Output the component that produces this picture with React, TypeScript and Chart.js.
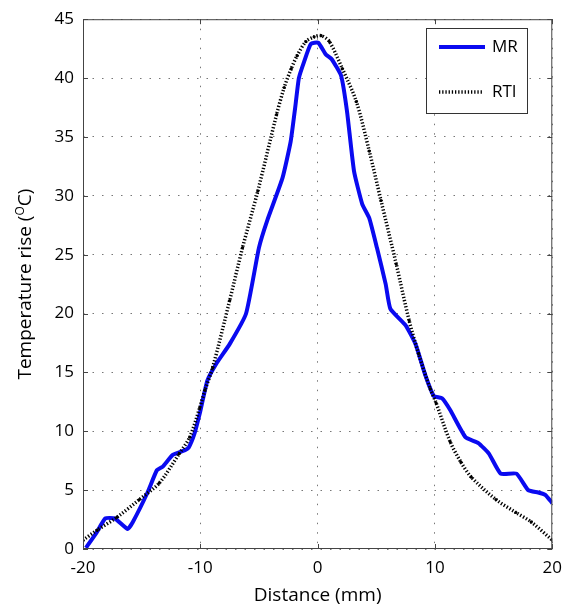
import React, { useEffect, useRef } from "react";
import { Chart, registerables } from "chart.js";

Chart.register(...registerables);

const mrX = [-19.75, -18.9, -18.1, -17.3, -16.2, -15.75, -14.5, -13.7, -13.2, -12.35, -11.3, -11.0, -10.5, -10.05, -9.4, -8.6, -7.5, -6.1, -5.0, -4.3, -3.0, -2.3, -1.9, -1.6, -1.15, -0.58, 0.05, 0.7, 1.2, 2.0, 2.5, 3.1, 3.8, 4.4, 5.05, 5.8, 6.2, 7.5, 8.35, 9.2, 9.9, 10.6, 11.3, 12.6, 13.7, 14.6, 15.6, 16.95, 17.95, 18.8, 19.4, 20];
const mrY = [0.1, 1.3, 2.6, 2.6, 1.7, 2.3, 4.8, 6.7, 7.0, 8.0, 8.4, 8.6, 9.8, 11.5, 14.3, 15.8, 17.4, 20.0, 25.6, 27.9, 31.5, 34.6, 37.6, 40.0, 41.4, 42.9, 43.0, 42.0, 41.6, 40.2, 37.2, 32.1, 29.3, 28.1, 25.6, 22.5, 20.4, 19.0, 17.4, 14.7, 13.0, 12.8, 11.8, 9.5, 9.0, 8.1, 6.4, 6.4, 5.0, 4.8, 4.6, 3.9];

const rtiX = [-20, -18.8, -17.1, -15.2, -13.5, -11.8, -10.9, -10.05, -9.6, -8.95, -7.5, -6.4, -5.1, -3.5, -2.85, -2.25, -1.75, -1.0, -0.3, 0.3, 1.0, 2.1, 3.3, 4.4, 5.4, 6.7, 7.8, 8.6, 9.6, 10.1, 11.3, 12.2, 13.1, 15.2, 16.9, 18.2, 20];
const rtiY = [0.75, 1.6, 2.7, 4.2, 5.6, 8.1, 9.5, 12.0, 13.5, 15.4, 21.1, 25.6, 30.4, 36.9, 39.2, 40.8, 41.9, 43.1, 43.5, 43.6, 43.1, 40.8, 38.0, 33.8, 29.6, 24.2, 19.4, 16.6, 13.6, 12.4, 9.1, 7.4, 6.1, 4.2, 3.1, 2.3, 0.75];

const seriesNames = ["MR", "RTI"];
const xTitle = "Distance (mm)";
const yTitleMain = "Temperature rise (";
const yTitleSup = "O";
const yTitleEnd = "C)";

const FONT = "'Open Sans', 'DejaVu Sans', sans-serif";
const BLUE = "#0a0af0";

const overlayPlugin = {
  id: "overlay",
  afterDraw(chart: any) {
    const { ctx, chartArea } = chart;
    const { left, right, top, bottom } = chartArea;
    const xs = chart.scales.x;
    const ys = chart.scales.y;
    ctx.save();
    // frame
    ctx.strokeStyle = "#444";
    ctx.lineWidth = 1;
    ctx.setLineDash([]);
    ctx.strokeRect(left + 0.5, top + 0.5, right - left - 1, bottom - top - 1);
    // inward ticks
    ctx.beginPath();
    xs.ticks.forEach((t: any) => {
      const px = Math.round(xs.getPixelForValue(t.value)) + 0.5;
      ctx.moveTo(px, bottom);
      ctx.lineTo(px, bottom - 5);
      ctx.moveTo(px, top);
      ctx.lineTo(px, top + 5);
    });
    ys.ticks.forEach((t: any) => {
      const py = Math.round(ys.getPixelForValue(t.value)) + 0.5;
      ctx.moveTo(left, py);
      ctx.lineTo(left + 5, py);
      ctx.moveTo(right, py);
      ctx.lineTo(right - 5, py);
    });
    ctx.stroke();

    // legend
    const lx = 426, ly = 28, lw = 101, lh = 85;
    ctx.fillStyle = "#fff";
    ctx.fillRect(lx, ly, lw, lh);
    ctx.strokeStyle = "#333";
    ctx.lineWidth = 1;
    ctx.strokeRect(lx + 0.5, ly + 0.5, lw, lh);
    ctx.strokeStyle = BLUE;
    ctx.lineWidth = 4;
    ctx.beginPath();
    ctx.moveTo(439, 47);
    ctx.lineTo(485, 47);
    ctx.stroke();
    ctx.strokeStyle = "#000";
    ctx.lineWidth = 3.5;
    ctx.setLineDash([1.3, 1.9]);
    ctx.beginPath();
    ctx.moveTo(439, 92);
    ctx.lineTo(483, 92);
    ctx.stroke();
    ctx.setLineDash([]);
    ctx.fillStyle = "#000";
    ctx.font = `17px ${FONT}`;
    ctx.textBaseline = "middle";
    ctx.textAlign = "left";
    ctx.fillText(seriesNames[0], 492, 47);
    ctx.fillText(seriesNames[1], 492, 92);

    // x title
    ctx.font = `19px ${FONT}`;
    ctx.textAlign = "center";
    ctx.fillText(xTitle, (left + right) / 2, 596);

    // y title with superscript
    ctx.translate(26, (top + bottom) / 2);
    ctx.rotate(-Math.PI / 2);
    const mainFont = `19px ${FONT}`;
    const supFont = `12px ${FONT}`;
    ctx.font = mainFont;
    const w1 = ctx.measureText(yTitleMain).width;
    const w3 = ctx.measureText(yTitleEnd).width;
    ctx.font = supFont;
    const w2 = ctx.measureText(yTitleSup).width;
    const total = w1 + w2 + w3;
    let x0 = -total / 2;
    ctx.textAlign = "left";
    ctx.font = mainFont;
    ctx.fillText(yTitleMain, x0, 0);
    x0 += w1;
    ctx.font = supFont;
    ctx.fillText(yTitleSup, x0, -5);
    x0 += w2;
    ctx.font = mainFont;
    ctx.fillText(yTitleEnd, x0, 0);
    ctx.restore();
  },
};

export default function App() {
  const ref = useRef<HTMLCanvasElement>(null);
  useEffect(() => {
    document.body.style.margin = "0";
    const mr = mrX.map((x, i) => ({ x, y: mrY[i] }));
    const rti = rtiX.map((x, i) => ({ x, y: rtiY[i] }));
    const chart = new Chart(ref.current!, {
      type: "scatter",
      data: {
        datasets: [
          {
            label: seriesNames[1],
            data: rti,
            showLine: true,
            borderColor: "#000",
            borderWidth: 3.5,
            borderDash: [1.3, 1.9],
            pointRadius: 1.6,
            pointBackgroundColor: "#000",
            pointBorderWidth: 0,
            tension: 0.3,
          },
          {
            label: seriesNames[0],
            data: mr,
            showLine: true,
            borderColor: BLUE,
            borderWidth: 4,
            pointRadius: 0,
            tension: 0.15,
          },
        ],
      },
      options: {
        animation: false,
        responsive: false,
        layout: { padding: { top: 18, right: 17, left: 0, bottom: 0 } },
        plugins: { legend: { display: false }, tooltip: { enabled: false } },
        scales: {
          x: {
            type: "linear",
            min: -20,
            max: 20,
            ticks: { stepSize: 10, color: "#000", padding: 9, font: { family: FONT, size: 17 } },
            grid: { color: "#777", lineWidth: 1, drawTicks: false },
            border: { display: false, dash: [1.5, 8] },
            afterFit(s: any) {
              s.height = 61;
            },
          },
          y: {
            min: 0,
            max: 45,
            ticks: { stepSize: 5, color: "#000", padding: 9, font: { family: FONT, size: 17 } },
            grid: { color: "#777", lineWidth: 1, drawTicks: false },
            border: { display: false, dash: [1.5, 8] },
            afterFit(s: any) {
              s.width = 83;
            },
          },
        },
      },
      plugins: [overlayPlugin],
    });
    return () => chart.destroy();
  }, []);
  return (
    <div style={{ position: "absolute", left: 0, top: 0, width: 571, height: 610, background: "#fff" }}>
      <canvas ref={ref} width={571} height={610} />
    </div>
  );
}
